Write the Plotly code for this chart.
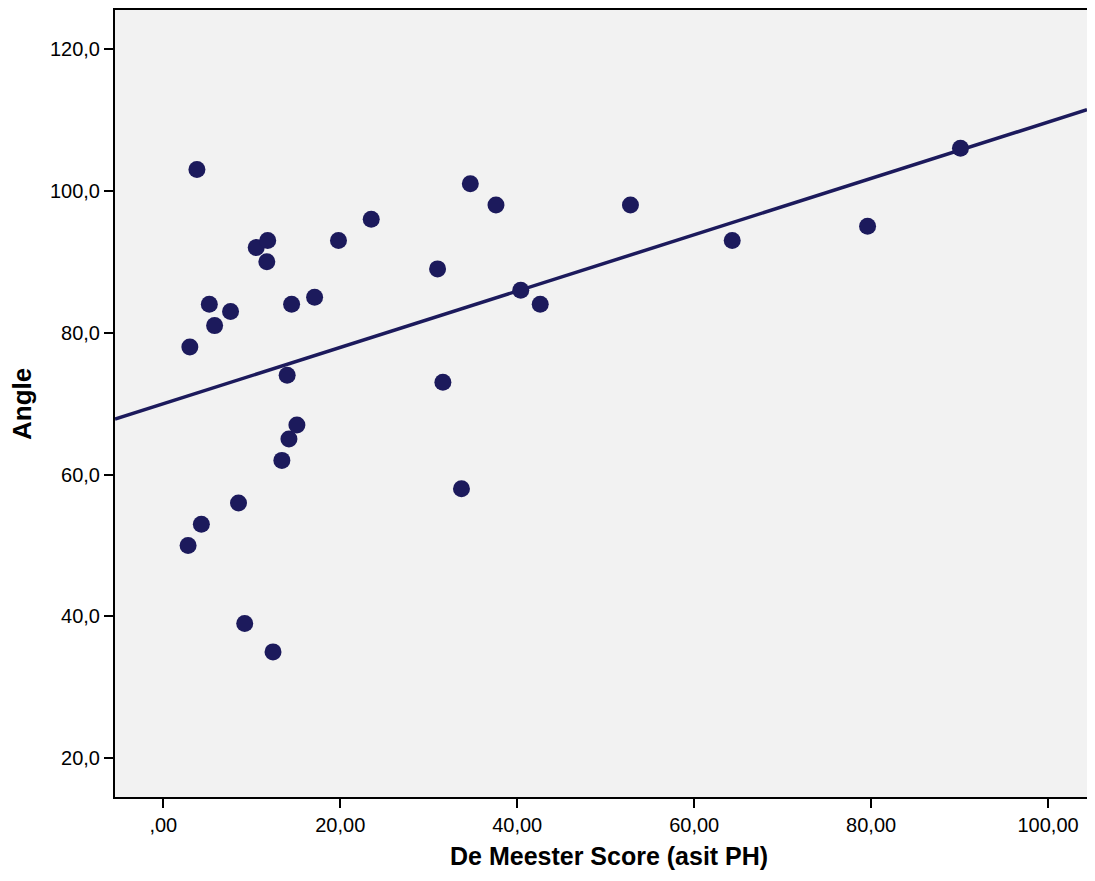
import numpy as np
import plotly.graph_objects as go

# Data
de_meester = [3.8, 3.0, 5.2, 5.8, 7.6, 10.5, 11.8, 11.7, 14.5, 17.1, 14.0, 14.2, 15.1, 13.4,
              8.5, 4.3, 2.8, 9.2, 12.4, 19.8, 23.5, 31.0, 31.6, 33.7, 34.7, 37.6, 40.4, 42.6,
              52.8, 64.3, 79.6, 90.1]
angle = [103, 78, 84, 81, 83, 92, 93, 90, 84, 85, 74, 65, 67, 62,
         56, 53, 50, 39, 35, 93, 96, 89, 73, 58, 101, 98, 86, 84,
         98, 93, 95, 106]

x_ticks = [0, 20, 40, 60, 80, 100]
x_ticktext = [",00", "20,00", "40,00", "60,00", "80,00", "100,00"]
y_ticks = [20, 40, 60, 80, 100, 120]
y_ticktext = ["20,0", "40,0", "60,0", "80,0", "100,0", "120,0"]

x_range = [-5.46, 104.4]
y_range = [14.54, 125.5]

color = "#1c1a5c"

slope, intercept = np.polyfit(de_meester, angle, 1)
fit_x = np.array(x_range)
fit_y = slope * fit_x + intercept

fig = go.Figure()
fig.add_trace(go.Scatter(x=fit_x, y=fit_y, mode="lines",
                         line=dict(color=color, width=3.5), showlegend=False,
                         hoverinfo="skip"))
fig.add_trace(go.Scatter(x=de_meester, y=angle, mode="markers",
                         marker=dict(color=color, size=17, line=dict(width=0)),
                         showlegend=False))

# page body has an 8px margin; figure is sized so the page fits the window
W, H = 1079, 865
L, T, B = 107, 2, 76
PW, PH = W - L, H - T - B

font_family = "Arial, Liberation Sans, sans-serif"
fig.update_layout(
    width=W, height=H,
    margin=dict(l=L, r=0, t=T, b=B),
    paper_bgcolor="white",
    plot_bgcolor="#f2f2f2",
    font=dict(family=font_family, color="black", size=20),
    xaxis=dict(range=x_range, tickvals=x_ticks, ticktext=x_ticktext,
               showgrid=False, zeroline=False, showline=True, linecolor="black",
               linewidth=2, mirror=True, ticks="outside", ticklen=9, tickwidth=2,
               tickcolor="black", tickfont=dict(size=20)),
    yaxis=dict(range=y_range, tickvals=y_ticks, ticktext=y_ticktext,
               showgrid=False, zeroline=False, showline=True, linecolor="black",
               linewidth=2, ticks="outside", ticklen=9, tickwidth=2,
               tickcolor="black", tickfont=dict(size=20)),
    annotations=[
        dict(text="<b>De Meester Score (asit PH)</b>", xref="paper", yref="paper",
             x=(609 - 8 - L) / PW, y=-(856 - 8 - (T + PH)) / PH,
             xanchor="center", yanchor="middle",
             showarrow=False, font=dict(size=25, family=font_family)),
        dict(text="<b>Angle</b>", xref="paper", yref="paper",
             x=(22 - 8 - L) / PW, y=(T + PH - (404 - 8)) / PH,
             xanchor="center", yanchor="middle",
             textangle=-90, showarrow=False, font=dict(size=26, family=font_family)),
    ],
)

fig.write_html("out.html")
